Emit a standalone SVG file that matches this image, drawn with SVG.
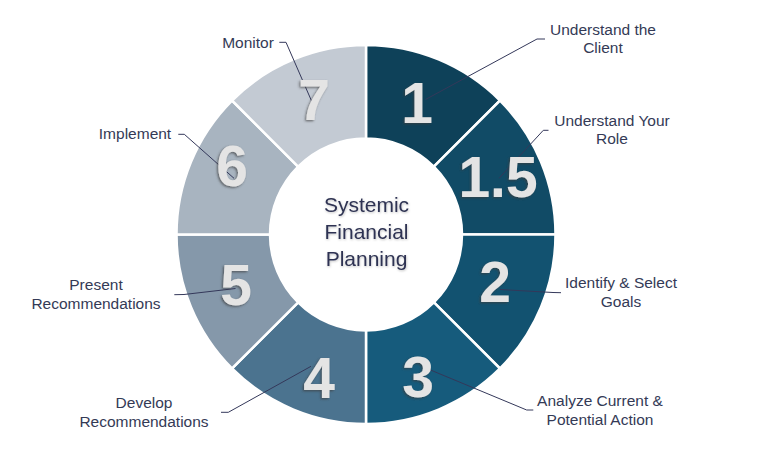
<svg xmlns="http://www.w3.org/2000/svg" width="757" height="466" viewBox="0 0 757 466">
<defs>
<filter id="emb" x="-20%" y="-20%" width="140%" height="140%">
<feDropShadow dx="-1.2" dy="1.2" stdDeviation="0.9" flood-color="#3a3a3a" flood-opacity="0.7"/>
</filter>
<filter id="soft" x="-10%" y="-10%" width="120%" height="130%">
<feDropShadow dx="0.5" dy="1" stdDeviation="0.8" flood-color="#000" flood-opacity="0.25"/>
</filter>
<style>
.seg{stroke:#ffffff;stroke-width:2.5;stroke-linejoin:miter}
.num{font-family:"Liberation Sans",Arial,sans-serif;font-weight:bold;font-size:57px;fill:#e4e4e4;text-anchor:middle;filter:url(#emb)}
.lbl{font-family:"Liberation Sans",Arial,sans-serif;font-size:15.5px;fill:#343a56;text-anchor:middle}
.ctr{font-family:"Liberation Sans",Arial,sans-serif;font-size:21px;fill:#2e3352;text-anchor:middle;filter:url(#soft)}
.ld{fill:none;stroke:#34385a;stroke-width:1}
</style>
</defs>
<rect width="757" height="466" fill="#ffffff"/>
<g id="ring">
<g id="seg-1"><path class="seg" fill="#0e4159" d="M366 45 A189.5 189.5 0 0 1 500 100.5 L433.88 166.62 A96 96 0 0 0 366 138.5 Z"/></g>
<g id="seg-1-5"><path class="seg" fill="#114b66" d="M500 100.5 A189.5 189.5 0 0 1 555.5 234.5 L462 234.5 A96 96 0 0 0 433.88 166.62 Z"/></g>
<g id="seg-2"><path class="seg" fill="#125270" d="M555.5 234.5 A189.5 189.5 0 0 1 500 368.5 L433.88 302.38 A96 96 0 0 0 462 234.5 Z"/></g>
<g id="seg-3"><path class="seg" fill="#165b7c" d="M500 368.5 A189.5 189.5 0 0 1 366 424 L366 330.5 A96 96 0 0 0 433.88 302.38 Z"/></g>
<g id="seg-4"><path class="seg" fill="#4b738f" d="M366 424 A189.5 189.5 0 0 1 232 368.5 L298.12 302.38 A96 96 0 0 0 366 330.5 Z"/></g>
<g id="seg-5"><path class="seg" fill="#8598aa" d="M232 368.5 A189.5 189.5 0 0 1 176.5 234.5 L270 234.5 A96 96 0 0 0 298.12 302.38 Z"/></g>
<g id="seg-6"><path class="seg" fill="#a8b4c0" d="M176.5 234.5 A189.5 189.5 0 0 1 232 100.5 L298.12 166.62 A96 96 0 0 0 270 234.5 Z"/></g>
<g id="seg-7"><path class="seg" fill="#c3cad3" d="M232 100.5 A189.5 189.5 0 0 1 366 45 L366 138.5 A96 96 0 0 0 298.12 166.62 Z"/></g>
</g>
<g id="connectors">
<polyline class="ld" points="545,39 537,39 425.5,99.5"/>
<polyline class="ld" points="548.5,130.3 543.3,130.3 499,178.3"/>
<polyline class="ld" points="561,292.7 553,292.5 500,289.5"/>
<polyline class="ld" points="533.3,410 526.7,410 430.5,370"/>
<polyline class="ld" points="221,412.3 228.3,412.3 311,366.3"/>
<polyline class="ld" points="174.3,294.7 184,294.5 235.5,288.5"/>
<polyline class="ld" points="178.3,134.3 184.3,134.3 234,178.3"/>
<polyline class="ld" points="279.3,42.3 286,42.3 312,102"/>
</g>
<g id="numbers">
<text class="num" x="417" y="123">1</text>
<text class="num" x="498" y="197">1.5</text>
<text class="num" x="495" y="302">2</text>
<text class="num" x="418" y="397">3</text>
<text class="num" x="319" y="398">4</text>
<text class="num" x="236" y="305">5</text>
<text class="num" x="232" y="186">6</text>
<text class="num" x="314" y="120">7</text>
</g>
<g id="center">
<text class="ctr" x="366.5" y="212">Systemic</text>
<text class="ctr" x="366.5" y="239">Financial</text>
<text class="ctr" x="366.5" y="266">Planning</text>
</g>
<g id="label-1"><text class="lbl" x="603" y="34.5">Understand the</text><text class="lbl" x="603" y="53.3">Client</text></g>
<g id="label-1-5"><text class="lbl" x="612" y="125.5">Understand Your</text><text class="lbl" x="612" y="144.3">Role</text></g>
<g id="label-2"><text class="lbl" x="621" y="288.3">Identify &amp; Select</text><text class="lbl" x="621" y="306.7">Goals</text></g>
<g id="label-3"><text class="lbl" x="600" y="406.2">Analyze Current &amp;</text><text class="lbl" x="600" y="424.5">Potential Action</text></g>
<g id="label-4"><text class="lbl" x="144" y="408.3">Develop</text><text class="lbl" x="144" y="427.3">Recommendations</text></g>
<g id="label-5"><text class="lbl" x="96" y="289.5">Present</text><text class="lbl" x="96" y="308.8">Recommendations</text></g>
<g id="label-6"><text class="lbl" x="135" y="139">Implement</text></g>
<g id="label-7"><text class="lbl" x="248" y="48.3">Monitor</text></g>
</svg>
